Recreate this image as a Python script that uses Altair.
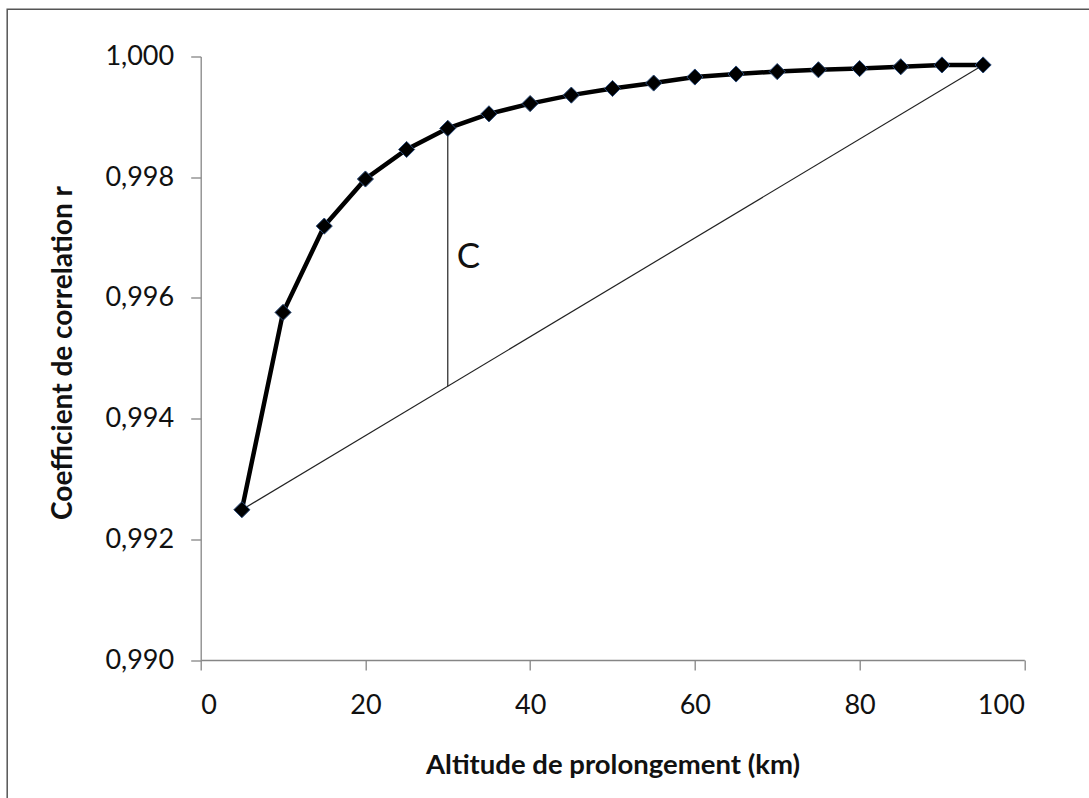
import altair as alt
import pandas as pd

# Data
altitude_km = [5, 10, 15, 20, 25, 30, 35, 40, 45, 50, 55, 60, 65, 70, 75, 80, 85, 90, 95]
corr_r = [0.99249, 0.99576, 0.99719, 0.99797, 0.99846, 0.99881, 0.99905, 0.99922,
          0.99936, 0.99947, 0.99956, 0.99966, 0.99971, 0.99975, 0.99978, 0.99980,
          0.99983, 0.99986, 0.99986]
x_ticks = [0, 20, 40, 60, 80, 100]
y_ticks = [0.990, 0.992, 0.994, 0.996, 0.998, 1.000]
c_at_x = 30
label_text = ["C"]
label_x = [32.5]
label_y = [0.99667]

FONT = "Lato"
W, H = 823.6, 603.5
PAD = {"left": 200.7, "top": 56.5, "right": 1089 - 200.7 - W, "bottom": 798 - 56.5 - H}

curve = pd.DataFrame({"x": altitude_km, "r": corr_r})
chord = pd.DataFrame({"x": [altitude_km[0], altitude_km[-1]], "r": [corr_r[0], corr_r[-1]]})
i30 = altitude_km.index(c_at_x)
chord_y30 = corr_r[0] + (c_at_x - altitude_km[0]) / (altitude_km[-1] - altitude_km[0]) * (corr_r[-1] - corr_r[0])
vline = pd.DataFrame({"x": [c_at_x], "y1": [chord_y30], "y2": [corr_r[i30]]})
labels = pd.DataFrame({"x": label_x, "y": label_y, "t": label_text})

xscale = alt.Scale(domain=[0, 100], nice=False, zero=False)
yscale = alt.Scale(domain=[0.990, 1.000], nice=False, zero=False)

xaxis = alt.Axis(
    values=x_ticks, title="Altitude de prolongement (km)", grid=False,
    domainColor="#868686", tickColor="#868686", tickSize=10, domainWidth=1.3, tickWidth=1.3,
    labelFont=FONT, labelFontSize=27, labelColor="#111", labelPadding=22,
    titleFont=FONT, titleFontSize=27.5, titleFontWeight="bold", titleColor="#111",
    titleBaseline="alphabetic", titleY=113,
)
yaxis = alt.Axis(
    values=y_ticks, title="Coefficient de correlation r", grid=False,
    labelExpr="replace(format(datum.value, '.3f'), '.', ',')",
    domainColor="#868686", tickColor="#868686", tickSize=10, domainWidth=1.3, tickWidth=1.3,
    labelFont=FONT, labelFontSize=27, labelColor="#111", labelPadding=17,
    titleFont=FONT, titleFontSize=28, titleFontWeight="bold", titleColor="#111",
    titleAngle=-90, titleAlign="center", titleBaseline="middle", titleX=-137, titleY=296,
)

base_line = alt.Chart(curve).mark_line(color="black", strokeWidth=4.5).encode(
    x=alt.X("x:Q", scale=xscale, axis=xaxis),
    y=alt.Y("r:Q", scale=yscale, axis=yaxis),
)
pts = alt.Chart(curve).mark_point(shape="diamond", filled=True, size=260, color="black",
                                  stroke="#2a4a78", strokeWidth=1, opacity=1).encode(
    x=alt.X("x:Q", scale=xscale), y=alt.Y("r:Q", scale=yscale))
chord_line = alt.Chart(chord).mark_line(color="#222", strokeWidth=1.2).encode(
    x=alt.X("x:Q", scale=xscale), y=alt.Y("r:Q", scale=yscale))
vrule = alt.Chart(vline).mark_rule(color="#222", strokeWidth=1.2).encode(
    x=alt.X("x:Q", scale=xscale), y=alt.Y("y1:Q", scale=yscale), y2="y2:Q")
ctext = alt.Chart(labels).mark_text(font=FONT, fontSize=35, color="#111", align="center",
                                    baseline="middle").encode(
    x=alt.X("x:Q", scale=xscale), y=alt.Y("y:Q", scale=yscale), text="t:N")
frame = alt.Chart(labels).mark_rect(filled=False, stroke="#555", strokeWidth=1.5).encode(
    x=alt.value(-193.5), x2=alt.value(1000), y=alt.value(-47.3), y2=alt.value(900))

chart = alt.layer(frame, chord_line, vrule, base_line, pts, ctext).properties(
    width=W, height=H, padding=PAD,
    autosize=alt.AutoSizeParams(type="none"),
    background="white",
).configure_view(stroke=None)

chart.save("out.html", embed_options={"renderer": "svg", "actions": False})
